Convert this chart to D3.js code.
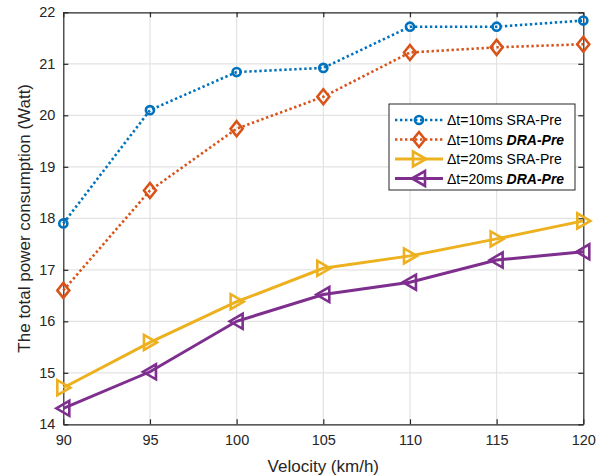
<!DOCTYPE html>
<html>
<head>
<meta charset="utf-8">
<script src="https://cdn.jsdelivr.net/npm/d3@7"></script>
<style>
  html, body { margin: 0; padding: 0; background: #fff; }
  svg { display: block; font-family: "Liberation Sans", Arial, Helvetica, sans-serif; }
</style>
</head>
<body>
<svg id="chart" width="609" height="476"></svg>
<script>
// Velocity sweep (km/h)
const velocity = [90, 95, 100, 105, 110, 115, 120];

// Total power consumption (Watt) per scheme
const sra10 = [17.9, 20.1, 20.84, 20.92, 21.72, 21.72, 21.84];
const dra10 = [16.6, 18.54, 19.74, 20.36, 21.22, 21.32, 21.38];
const sra20 = [14.71, 15.59, 16.38, 17.03, 17.27, 17.6, 17.95];
const dra20 = [14.31, 15.02, 16.0, 16.52, 16.76, 17.19, 17.35];

const xTicks = [90, 95, 100, 105, 110, 115, 120];
const yTicks = [14, 15, 16, 17, 18, 19, 20, 21, 22];

const series = [
  { prefix: "\u0394t=10ms ", name: "SRA-Pre", bold: false, values: sra10, color: "#0072BD", dotted: true, marker: "circle" },
  { prefix: "\u0394t=10ms ", name: "DRA-Pre", bold: true, values: dra10, color: "#D95319", dotted: true, marker: "diamond" },
  { prefix: "\u0394t=20ms ", name: "SRA-Pre", bold: false, values: sra20, color: "#EDB120", dotted: false, marker: "triRight" },
  { prefix: "\u0394t=20ms ", name: "DRA-Pre", bold: true, values: dra20, color: "#7E2F8E", dotted: false, marker: "triLeft" }
];

const svg = d3.select("#chart");
const plotL = 63.3, plotR = 583.3, plotT = 12.3, plotB = 424.3;

const x = d3.scaleLinear().domain([90, 120]).range([plotL, plotR]);
const y = d3.scaleLinear().domain([14, 22]).range([plotB, plotT]);

// grid
const grid = svg.append("g");
grid.selectAll("line.gx").data(xTicks.slice(1, -1)).join("line")
  .attr("x1", d => x(d)).attr("x2", d => x(d))
  .attr("y1", plotT).attr("y2", plotB)
  .attr("stroke", "#e3e3e3").attr("stroke-width", 1.2);
grid.selectAll("line.gy").data(yTicks.slice(1, -1)).join("line")
  .attr("y1", d => y(d)).attr("y2", d => y(d))
  .attr("x1", plotL).attr("x2", plotR)
  .attr("stroke", "#e3e3e3").attr("stroke-width", 1.2);

// axes (ticks inward, box on)
const axisColor = "#262626";
const tickLen = 5;
const xAxis = svg.append("g").attr("transform", `translate(0,${plotB})`)
  .call(d3.axisBottom(x).tickValues(xTicks).tickSizeInner(-tickLen).tickSizeOuter(0).tickPadding(10));
const yAxis = svg.append("g").attr("transform", `translate(${plotL},0)`)
  .call(d3.axisLeft(y).tickValues(yTicks).tickSizeInner(-tickLen).tickSizeOuter(0).tickPadding(8));
const xTop = svg.append("g").attr("transform", `translate(0,${plotT})`)
  .call(d3.axisTop(x).tickValues(xTicks).tickSizeInner(-tickLen).tickSizeOuter(0).tickFormat(""));
const yRight = svg.append("g").attr("transform", `translate(${plotR},0)`)
  .call(d3.axisRight(y).tickValues(yTicks).tickSizeInner(-tickLen).tickSizeOuter(0).tickFormat(""));
[xAxis, yAxis, xTop, yRight].forEach(g => {
  g.select(".domain").attr("stroke", axisColor).attr("stroke-width", 1.2);
  g.selectAll(".tick line").attr("stroke", axisColor).attr("stroke-width", 1.2);
  g.selectAll(".tick text").attr("fill", axisColor).attr("font-size", 14.5)
    .attr("font-family", "'Liberation Sans', Arial, sans-serif");
});

// axis titles
svg.append("text").attr("x", (plotL + plotR) / 2).attr("y", 472)
  .attr("text-anchor", "middle").attr("font-size", 17).attr("fill", axisColor)
  .text("Velocity (km/h)");
svg.append("text")
  .attr("transform", `translate(30,${(plotT + plotB) / 2}) rotate(-90)`)
  .attr("text-anchor", "middle").attr("font-size", 17).attr("fill", axisColor)
  .text("The total power consumption (Watt)");

// marker shapes
function markerPath(type) {
  switch (type) {
    case "circle": return d3.symbol(d3.symbolCircle, 52)();
    case "diamond": return "M0,-7.5L6,0L0,7.5L-6,0Z";
    case "triRight": return "M7,0L-6,-7.5L-6,7.5Z";
    case "triLeft": return "M-7,0L6,-7.5L6,7.5Z";
  }
}

const line = d3.line().x((d, i) => x(velocity[i])).y(d => y(d));

const plot = svg.append("g");
series.forEach(s => {
  plot.append("path").datum(s.values)
    .attr("d", line)
    .attr("fill", "none")
    .attr("stroke", s.color)
    .attr("stroke-width", s.dotted ? 2.6 : 3)
    .attr("stroke-dasharray", s.dotted ? "2.4,2.6" : null);
  plot.selectAll(null).data(s.values).join("path")
    .attr("transform", (d, i) => `translate(${x(velocity[i])},${y(d)})`)
    .attr("d", markerPath(s.marker))
    .attr("fill", "none")
    .attr("stroke", s.color)
    .attr("stroke-width", 2.6);
});

// legend
const lg = svg.append("g");
const lx = 389, ly = 104, lw = 186, lh = 86;
lg.append("rect").attr("x", lx).attr("y", ly).attr("width", lw).attr("height", lh)
  .attr("fill", "#fff").attr("stroke", axisColor).attr("stroke-width", 1);
series.forEach((s, i) => {
  const cy = ly + 16 + i * 19.5;
  lg.append("line").attr("x1", lx + 6).attr("x2", lx + 54).attr("y1", cy).attr("y2", cy)
    .attr("stroke", s.color).attr("stroke-width", s.dotted ? 2.6 : 3)
    .attr("stroke-dasharray", s.dotted ? "2.4,2.6" : null);
  lg.append("path").attr("transform", `translate(${lx + 30},${cy})`)
    .attr("d", markerPath(s.marker)).attr("fill", "none")
    .attr("stroke", s.color).attr("stroke-width", 2.6);
  const t = lg.append("text").attr("x", lx + 58).attr("y", cy + 5)
    .attr("font-size", 14).attr("fill", "#000");
  t.append("tspan").text(s.prefix);
  t.append("tspan").text(s.name)
    .attr("font-weight", s.bold ? "bold" : null)
    .attr("font-style", s.bold ? "italic" : null);
});
</script>
</body>
</html>
